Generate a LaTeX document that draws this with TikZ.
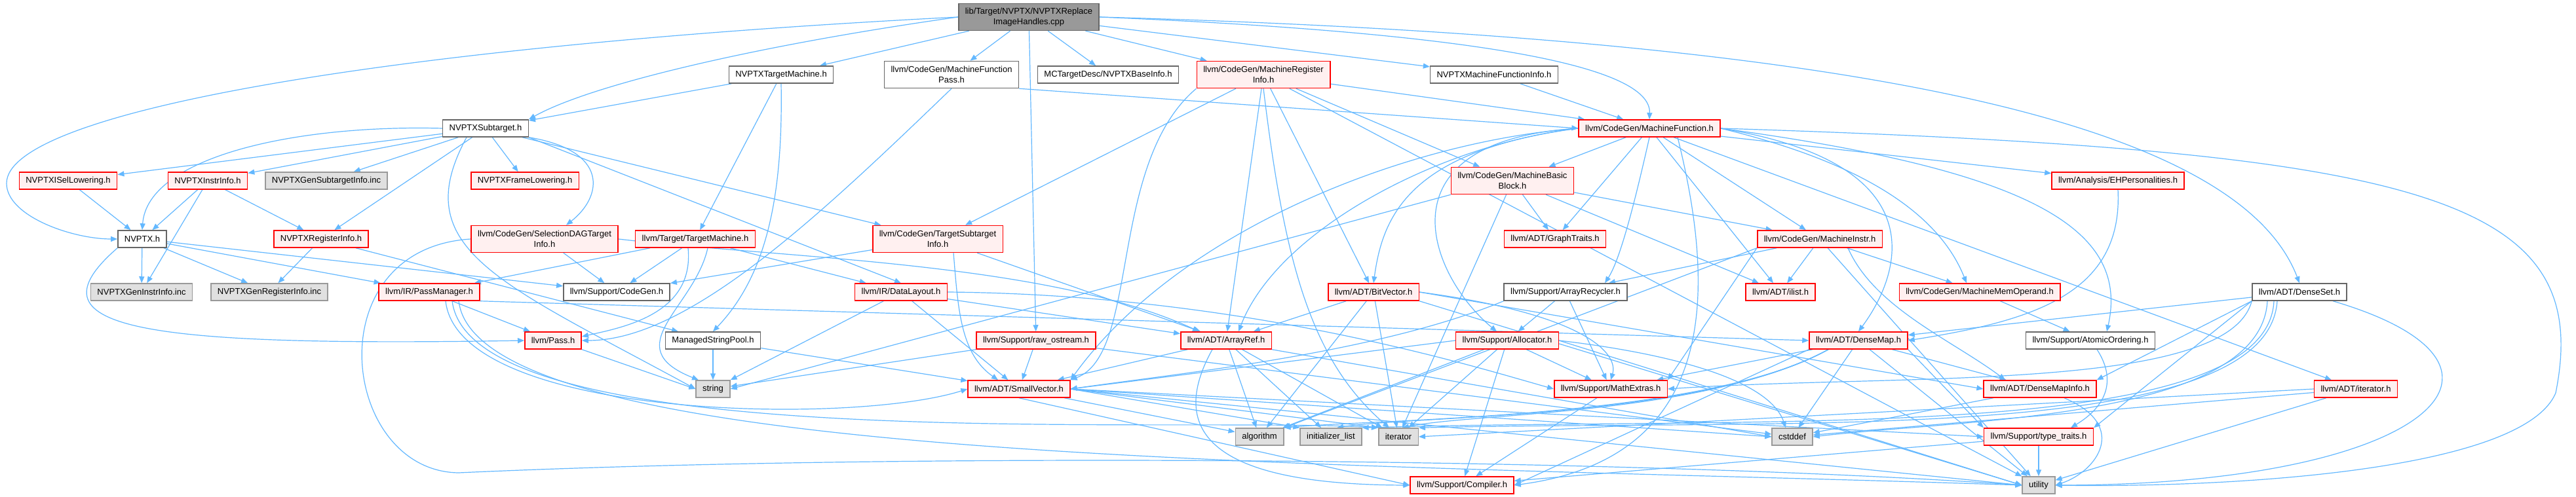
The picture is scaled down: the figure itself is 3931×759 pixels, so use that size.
\documentclass[tikz,border=0pt]{standalone}
\usepackage{fontspec}
\setmainfont{Liberation Sans}
\usetikzlibrary{arrows.meta, backgrounds}

\definecolor{edgeblue}{HTML}{63B8FF}
\definecolor{boxline}{HTML}{666666}
\definecolor{sysline}{HTML}{999999}
\definecolor{sysfill}{HTML}{E0E0E0}
\definecolor{truncfill}{HTML}{FFF0F0}
\definecolor{rootfill}{HTML}{999999}

\begin{document}
\begin{tikzpicture}[
    x=1pt, y=-1pt,
    hdrbox/.style={rectangle, draw=boxline, line width=1.5pt, fill=white, minimum height=26pt, inner xsep=10pt, inner ysep=2pt, align=center, font=\fontsize{13}{16}\selectfont},
    redbox/.style={hdrbox, draw=red, fill=truncfill},
    sysbox/.style={hdrbox, draw=sysline, fill=sysfill},
    rootbox/.style={hdrbox, fill=rootfill},
    twoline/.style={minimum height=41pt},
    arrow/.style={-{Triangle[length=10pt,width=8pt]}, draw=edgeblue, line width=1.2pt}
  ]
  \useasboundingbox (0,0) rectangle (3931,759);

  % top rows
  \node[rootbox, twoline] (root) at (1570,26) {lib/Target/NVPTX/NVPTXReplace\\ImageHandles.cpp};
  \node[hdrbox] (tmach) at (1192,114) {NVPTXTargetMachine.h};
  \node[hdrbox, twoline] (mfpass) at (1452,114) {llvm/CodeGen/MachineFunction\\Pass.h};
  \node[hdrbox] (baseinfo) at (1691,114) {MCTargetDesc/NVPTXBaseInfo.h};
  \node[redbox, twoline] (mreginfo) at (1928,114) {llvm/CodeGen/MachineRegister\\Info.h};
  \node[hdrbox] (mfinfo) at (2280,114) {NVPTXMachineFunctionInfo.h};
  \node[hdrbox] (subtgt) at (741,196) {NVPTXSubtarget.h};
  \node[redbox] (mfunc) at (2517,196) {llvm/CodeGen/MachineFunction.h};
  \node[redbox] (isel) at (104,276) {NVPTXISelLowering.h};
  \node[redbox] (instrinfo) at (317,276) {NVPTXInstrInfo.h};
  \node[sysbox] (gensubtgt) at (498,276) {NVPTXGenSubtargetInfo.inc};
  \node[redbox] (framelow) at (801,276) {NVPTXFrameLowering.h};
  \node[redbox, twoline] (mbblock) at (2308,276) {llvm/CodeGen/MachineBasic\\Block.h};
  \node[redbox] (ehpers) at (3232,276) {llvm/Analysis/EHPersonalities.h};

  % middle rows
  \node[hdrbox] (nvptx) at (217,365) {NVPTX.h};
  \node[redbox] (reginfo) at (490,365) {NVPTXRegisterInfo.h};
  \node[redbox, twoline] (sdagti) at (831,365) {llvm/CodeGen/SelectionDAGTarget\\Info.h};
  \node[redbox] (targetmach) at (1061,365) {llvm/Target/TargetMachine.h};
  \node[redbox, twoline] (tsubinfo) at (1431,365) {llvm/CodeGen/TargetSubtarget\\Info.h};
  \node[redbox] (graphtr) at (2373,365) {llvm/ADT/GraphTraits.h};
  \node[redbox] (minstr) at (2777,365) {llvm/CodeGen/MachineInstr.h};
  \node[sysbox] (geninstr) at (216,446) {NVPTXGenInstrInfo.inc};
  \node[sysbox] (genreg) at (411,446) {NVPTXGenRegisterInfo.inc};
  \node[redbox] (passmgr) at (655,446) {llvm/IR/PassManager.h};
  \node[hdrbox] (codegen) at (941,446) {llvm/Support/CodeGen.h};
  \node[redbox] (datalayout) at (1375,446) {llvm/IR/DataLayout.h};
  \node[redbox] (bitvec) at (2096,446) {llvm/ADT/BitVector.h};
  \node[hdrbox] (arecycler) at (2389,446) {llvm/Support/ArrayRecycler.h};
  \node[redbox] (ilist) at (2717,446) {llvm/ADT/ilist.h};
  \node[redbox] (memop) at (3021,446) {llvm/CodeGen/MachineMemOperand.h};
  \node[hdrbox] (denseset) at (3509,446) {llvm/ADT/DenseSet.h};
  \node[redbox] (pass) at (844,520) {llvm/Pass.h};
  \node[hdrbox] (strpool) at (1088,520) {ManagedStringPool.h};
  \node[redbox] (rawos) at (1581,520) {llvm/Support/raw\_ostream.h};
  \node[redbox] (arrayref) at (1871,520) {llvm/ADT/ArrayRef.h};
  \node[redbox] (alloc) at (2300,520) {llvm/Support/Allocator.h};
  \node[redbox] (densemap) at (2836,520) {llvm/ADT/DenseMap.h};
  \node[hdrbox] (atomic) at (3190,520) {llvm/Support/AtomicOrdering.h};

  % bottom rows
  \node[sysbox] (string) at (1088,594) {string};
  \node[redbox] (smallvec) at (1555,594) {llvm/ADT/SmallVector.h};
  \node[redbox] (mathex) at (2458,594) {llvm/Support/MathExtras.h};
  \node[redbox] (dmapinfo) at (3113,594) {llvm/ADT/DenseMapInfo.h};
  \node[redbox] (iterh) at (3595,594) {llvm/ADT/iterator.h};
  \node[sysbox] (algorithm) at (1922,667) {algorithm};
  \node[sysbox] (initlist) at (2031,667) {initializer\_list};
  \node[sysbox] (iterator) at (2134,667) {iterator};
  \node[sysbox] (cstddef) at (2735,667) {cstddef};
  \node[redbox] (typetr) at (3111,667) {llvm/Support/type\_traits.h};
  \node[redbox] (compiler) at (2231,741) {llvm/Support/Compiler.h};
  \node[sysbox] (utility) at (3111,741) {utility};

  \begin{pgfonlayer}{background}
    \fill[white] (0,0) rectangle (3931,759);

    % the source file
    \foreach \dst in {tmach,mfpass,baseinfo,mreginfo,mfinfo,rawos}
      \draw[arrow] (root) -- (\dst);
    \draw[arrow] (root.west) .. controls (600,70) and (10,170) .. (10,280) .. controls (10,330) and (110,365) .. (nvptx.west);
    \draw[arrow] (root.west) .. controls (1150,70) and (900,130) .. (subtgt.north east);
    \draw[arrow] (root.east) .. controls (2250,50) and (2520,100) .. (mfunc.north);
    \draw[arrow] (root.east) .. controls (2900,60) and (3420,200) .. (denseset.north);

    % NVPTX target headers
    \foreach \dst in {geninstr,genreg,passmgr,codegen}
      \draw[arrow] (nvptx) -- (\dst);
    \draw[arrow] (nvptx.south west) .. controls (40,500) and (200,530) .. (pass.west);
    \foreach \dst in {isel,instrinfo,gensubtgt,framelow,reginfo,tsubinfo}
      \draw[arrow] (subtgt) -- (\dst);
    \draw[arrow] (subtgt.south east) -- (datalayout.north);
    \draw[arrow] (subtgt.west) .. controls (450,190) and (225,240) .. (nvptx.north);
    \draw[arrow] (subtgt.south east) .. controls (930,230) and (920,300) .. ([xshift=33pt]sdagti.north);
    \draw[arrow] ([xshift=-29pt]subtgt.south) .. controls (620,380) and (760,430) .. (string.west);
    \foreach \dst in {subtgt,targetmach}
      \draw[arrow] (tmach) -- (\dst);
    \draw[arrow] (tmach.south) .. controls (1195,300) and (1170,420) .. (strpool.north);
    \draw[arrow] (isel) -- (nvptx);
    \foreach \dst in {nvptx,geninstr,reginfo}
      \draw[arrow] (instrinfo) -- (\dst);
    \foreach \dst in {genreg,strpool}
      \draw[arrow] (reginfo) -- (\dst);
    \draw[arrow] (mfinfo) -- (mfunc);

    % codegen headers
    \draw[arrow] (mfpass.south east) -- (mfunc.west);
    \draw[arrow] (mfpass.south) .. controls (1250,330) and (1050,520) .. (pass.east);
    \foreach \dst in {tsubinfo,mbblock,mfunc,bitvec,arrayref,utility}
      \draw[arrow] (mreginfo) -- (\dst);
    \draw[arrow] (mreginfo.south west) .. controls (1690,250) and (1740,540) .. (smallvec.north east);
    \draw[arrow] (mreginfo.south) .. controls (1960,400) and (2000,550) .. ([xshift=-14pt]iterator.north);
    \foreach \dst in {mbblock,graphtr,minstr,ehpers,ilist,iterh}
      \draw[arrow] (mfunc) -- (\dst);
    \draw[arrow] (mfunc.west) .. controls (2150,230) and (2110,330) .. (bitvec.north);
    \draw[arrow] (mfunc.south) .. controls (2490,330) and (2470,400) .. ([xshift=60pt]arecycler.north);
    \draw[arrow] (mfunc.east) .. controls (2850,250) and (2960,330) .. ([xshift=-20pt]memop.north);
    \draw[arrow] (mfunc.east) .. controls (2960,250) and (2900,420) .. (densemap.north);
    \draw[arrow] (mfunc.west) .. controls (2200,220) and (1950,350) .. ([xshift=19pt]arrayref.north);
    \draw[arrow] (mfunc.west) .. controls (2150,215) and (1800,350) .. (smallvec.north east);
    \draw[arrow] (mfunc.west) .. controls (2100,215) and (2180,420) .. ([xshift=-16pt]alloc.north);
    \draw[arrow] (mfunc.east) .. controls (3100,260) and (3250,350) .. ([xshift=25pt]atomic.north);
    \draw[arrow] ([xshift=43pt]mfunc.south) .. controls (2620,450) and (2620,700) .. (compiler.east);
    \draw[arrow] (mfunc.east) .. controls (3700,230) and (3960,300) .. (3900,600) .. controls (3850,720) and (3400,745) .. (utility.east);
    \foreach \dst in {graphtr,minstr,ilist,iterator}
      \draw[arrow] (mbblock) -- (\dst);
    \draw[arrow] (mbblock.south west) -- (string.east);
    \foreach \dst in {ilist,memop,arecycler,utility}
      \draw[arrow] (minstr) -- (\dst);
    \draw[arrow] (minstr.south west) -- (mathex.north east);
    \draw[arrow] (minstr.south west) -- (algorithm.north east);
    \draw[arrow] ([xshift=43pt]minstr.south) .. controls (2860,470) and (2980,520) .. ([xshift=-53pt]dmapinfo.north);
    \draw[arrow] (memop) -- (atomic);
    \draw[arrow] (sdagti) -- (codegen);
    \draw[arrow] (sdagti.east) .. controls (1200,395) and (1600,400) .. ([xshift=-41pt]arrayref.north);
    \draw[arrow] (sdagti.west) .. controls (480,380) and (520,720) .. (700,722) .. controls (1400,690) and (2500,700) .. (utility.west);
    \foreach \dst in {codegen,arrayref}
      \draw[arrow] (tsubinfo) -- (\dst);
    \draw[arrow] ([xshift=24pt]tsubinfo.south) .. controls (1462,470) and (1465,540) .. ([xshift=-32pt]smallvec.north);

    % target and IR headers
    \foreach \dst in {datalayout,passmgr,codegen}
      \draw[arrow] (targetmach) -- (\dst);
    \draw[arrow] ([xshift=-11pt]targetmach.south) .. controls (1060,480) and (950,500) .. ([yshift=6pt]pass.east);
    \draw[arrow] ([xshift=19pt]targetmach.south) .. controls (1060,470) and (940,530) .. ([xshift=-22pt]string.north);
    \foreach \dst in {arrayref,smallvec,string}
      \draw[arrow] (datalayout) -- (\dst);
    \draw[arrow] (datalayout.east) .. controls (1900,450) and (2250,560) .. (mathex.west);
    \draw[arrow] (passmgr) -- (pass);
    \draw[arrow] (passmgr.south east) -- (densemap.west);
    \draw[arrow] ([xshift=25pt]passmgr.south) .. controls (700,640) and (1300,650) .. (smallvec.west);
    \draw[arrow] ([xshift=35pt]passmgr.south) .. controls (720,700) and (1800,635) .. (iterator.north west);
    \draw[arrow] ([xshift=45pt]passmgr.south) .. controls (730,710) and (2000,705) .. (utility.west);
    \draw[arrow] (pass.south east) -- (string.west);
    \foreach \dst in {string,smallvec}
      \draw[arrow] (strpool) -- (\dst);
    \foreach \dst in {string,smallvec,cstddef}
      \draw[arrow] (rawos) -- (\dst);

    % support and ADT headers
    \foreach \dst in {smallvec,algorithm,initlist,iterator}
      \draw[arrow] (arrayref) -- (\dst);
    \draw[arrow] (arrayref.south east) -- (cstddef.west);
    \draw[arrow] ([xshift=-21pt]arrayref.south) .. controls (1780,660) and (1850,740) .. (compiler.west);
    \draw[arrow] (smallvec) -- (algorithm);
    \draw[arrow] (smallvec.east) -- (initlist.north west);
    \draw[arrow] (smallvec.east) -- (iterator.north west);
    \draw[arrow] (smallvec.east) -- (cstddef.west);
    \draw[arrow] (smallvec.east) -- (typetr.west);
    \draw[arrow] (smallvec.east) -- (utility.west);
    \draw[arrow] (smallvec.south) -- (compiler.west);
    \foreach \dst in {arrayref,algorithm,iterator}
      \draw[arrow] (bitvec) -- (\dst);
    \draw[arrow] (bitvec.east) -- (dmapinfo.west);
    \draw[arrow] (bitvec.south east) -- (utility.west);
    \draw[arrow] (bitvec.east) .. controls (2420,480) and (2470,540) .. (mathex.north);
    \foreach \dst in {alloc,mathex}
      \draw[arrow] (arecycler) -- (\dst);
    \draw[arrow] (arecycler.south west) .. controls (2100,540) and (1800,570) .. (smallvec.east);
    \foreach \dst in {mathex,compiler,algorithm,iterator}
      \draw[arrow] (alloc) -- (\dst);
    \draw[arrow] (alloc.west) -- (smallvec.east);
    \draw[arrow] (alloc.east) -- (utility.west);
    \draw[arrow] (alloc.east) .. controls (2550,540) and (2700,580) .. ([xshift=-10pt]cstddef.north);
    \draw[arrow] (mathex) -- (compiler);
    \foreach \dst in {dmapinfo,mathex,cstddef,utility}
      \draw[arrow] (densemap) -- (\dst);
    \draw[arrow] (densemap.south west) -- (compiler.east);
    \draw[arrow] (densemap.south east) -- (typetr.north west);
    \draw[arrow] ([xshift=-46pt]densemap.south) .. controls (2600,640) and (2100,640) .. (algorithm.north east);
    \draw[arrow] ([xshift=-46pt]densemap.south) .. controls (2600,640) and (2150,635) .. ([xshift=9pt]initlist.north);
    \draw[arrow] ([xshift=-46pt]densemap.south) .. controls (2600,635) and (2250,630) .. ([xshift=6pt]iterator.north);
    \draw[arrow] (dmapinfo) -- (cstddef);
    \draw[arrow] ([xshift=37pt]dmapinfo.south) .. controls (3250,650) and (3200,720) .. (utility.east);
    \foreach \dst in {utility,compiler}
      \draw[arrow] (typetr) -- (\dst);
    \foreach \dst in {utility,cstddef}
      \draw[arrow] (iterh) -- (\dst);
    \draw[arrow] (iterh.west) -- (iterator.east);
    \draw[arrow] ([xshift=10pt]atomic.south) .. controls (3230,580) and (3215,620) .. ([xshift=49pt]typetr.north);
    \draw[arrow] (ehpers.south) .. controls (3240,450) and (3100,490) .. (densemap.east);
    \draw[arrow] (denseset) -- (densemap);
    \draw[arrow] (denseset.south west) -- (dmapinfo.north east);
    \draw[arrow] (denseset.south west) -- (typetr.north east);
    \draw[arrow] (denseset.south west) .. controls (3400,600) and (2900,570) .. (mathex.east);
    \draw[arrow] ([xshift=-49pt]denseset.south) .. controls (3450,640) and (3000,640) .. (cstddef.east);
    \draw[arrow] ([xshift=-39pt]denseset.south) .. controls (3460,680) and (2700,635) .. (initlist.north east);
    \draw[arrow] ([xshift=-34pt]denseset.south) .. controls (3460,680) and (2750,640) .. (iterator.north east);
    \draw[arrow] ([xshift=51pt]denseset.south) .. controls (3900,560) and (3700,740) .. (utility.east);
  \end{pgfonlayer}
\end{tikzpicture}
\end{document}
